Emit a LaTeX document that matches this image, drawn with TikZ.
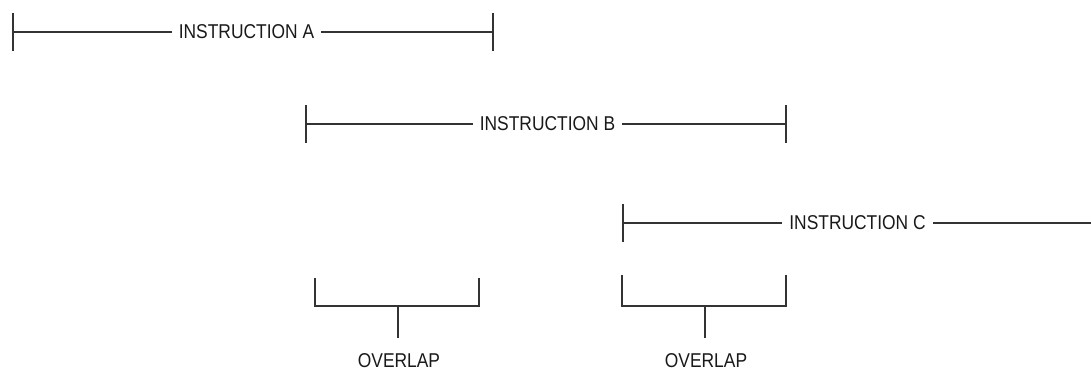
\documentclass[tikz,border=0pt]{standalone}
\usepackage{fontspec}
\setmainfont{Liberation Sans}[FakeStretch=0.87]
\usepackage{tikz}
\usetikzlibrary{calc, positioning}

\begin{document}
\begin{tikzpicture}[x=1pt, y=-1pt,
    bar/.style={draw=black!80, line width=1.6pt},
    lbl/.style={inner sep=7pt, font=\fontsize{20}{24}\selectfont, text=black!90},
    ovlbl/.style={lbl, inner sep=0pt}]
    % Khung bao ngoài (giữ đúng tỉ lệ hình)
    \useasboundingbox (0,0) rectangle (1091,370);

    % 1. Lệnh A
    \node[lbl] (instA) at (246.5,32) {INSTRUCTION A};
    \coordinate (aL) at (13,32);
    \coordinate (aR) at (493,32);
    \draw[bar] (aL) -- (instA.west);
    \draw[bar] (instA.east) -- (aR);
    \draw[bar] ([yshift=19pt]aL) -- ([yshift=-19pt]aL);
    \draw[bar] ([yshift=19pt]aR) -- ([yshift=-19pt]aR);

    % 2. Lệnh B
    \node[lbl] (instB) at (547.5,124) {INSTRUCTION B};
    \coordinate (bL) at (306,124);
    \coordinate (bR) at (786,124);
    \draw[bar] (bL) -- (instB.west);
    \draw[bar] (instB.east) -- (bR);
    \draw[bar] ([yshift=19pt]bL) -- ([yshift=-19pt]bL);
    \draw[bar] ([yshift=19pt]bR) -- ([yshift=-19pt]bR);

    % 3. Lệnh C (chạy ra mép phải)
    \node[lbl] (instC) at (857.5,223) {INSTRUCTION C};
    \coordinate (cL) at (623,223);
    \coordinate (cR) at (1091,223);
    \draw[bar] (cL) -- (instC.west);
    \draw[bar] (instC.east) -- (cR);
    \draw[bar] ([yshift=19pt]cL) -- ([yshift=-19pt]cL);

    % 4. Các ngoặc chồng lấn
    % Ngoặc trái
    \draw[bar] (315,278) |- (479,306) -- (479,278);
    \coordinate (ov1top) at (398,306);
    \coordinate (ov1end) at (398,338);
    \draw[bar] (ov1top) -- (ov1end);
    \node[ovlbl] (ovl1) at (399,361) {OVERLAP};

    % Ngoặc phải
    \draw[bar] (622,275) |- (786,306) -- (786,275);
    \coordinate (ov2top) at (705,306);
    \coordinate (ov2end) at (705,338);
    \draw[bar] (ov2top) -- (ov2end);
    \node[ovlbl] (ovl2) at (706,361) {OVERLAP};
\end{tikzpicture}
\end{document}
